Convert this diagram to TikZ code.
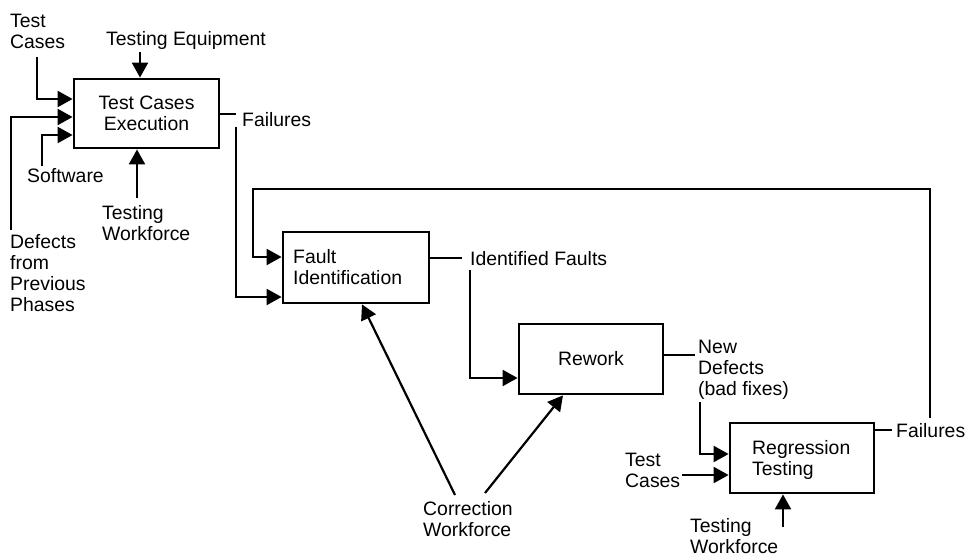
\documentclass[tikz,border=0pt]{standalone}
\usepackage{fontspec}
\setmainfont{Liberation Sans}
\usetikzlibrary{arrows.meta}
\tikzset{
  box/.style={draw, line width=2.8pt, rectangle, inner sep=0pt, align=center},
  lbl/.style={inner sep=0pt, align=left},
  conn/.style={line width=2.2pt},
  arr/.style={conn, -{Triangle[length=15pt,width=16pt]}},
}
\begin{document}
\begin{tikzpicture}[x=1pt,y=-1pt,font=\fontsize{19.4}{21}\selectfont]
\useasboundingbox (0,0) rectangle (965,556);

% process boxes
\node[box, minimum width=145pt, minimum height=69pt] (tce) at (146.5,113.5) {Test Cases\\Execution};
\node[box, minimum width=146pt, minimum height=71pt] (fi) at (356,267.5) {};
\node[lbl, anchor=west] (fitext) at (293,267) {Fault\\Identification};
\node[box, minimum width=144pt, minimum height=70pt] (rw) at (591,359) {Rework};
\node[box, minimum width=144pt, minimum height=70pt] (rt) at (802,458) {};
\node[lbl, anchor=west] (rttext) at (752,460) {Regression\\Testing};

% labels
\node[lbl, anchor=west] (ltc) at (10,31) {Test\\Cases};
\node[lbl] (lte) at (186,40) {Testing Equipment};
\node[lbl, anchor=west] (lf1) at (242,120) {Failures};
\node[lbl, anchor=west] (lsw) at (27,176) {Software};
\node[lbl, anchor=west] (ltw1) at (102,223) {Testing\\Workforce};
\node[lbl, anchor=west] (ldef) at (10,273) {Defects\\from\\Previous\\Phases};
\node[lbl, anchor=west] (lif) at (470,259) {Identified Faults};
\node[lbl, anchor=west] (lnd) at (698,370) {New\\Defects\\(bad fixes)};
\node[lbl, anchor=west] (lf2) at (896,431) {Failures};
\node[lbl, anchor=west] (ltc2) at (625,470) {Test\\Cases};
\node[lbl, anchor=west] (ltw2) at (690,536) {Testing\\Workforce};
\node[lbl, anchor=west] (lcw) at (423,519) {Correction\\Workforce};

% free ends
\coordinate (sTC) at (37,57);
\coordinate (sDef) at (11,230);
\coordinate (sSW) at (42,166);
\coordinate (sTE) at (140,52);
\coordinate (sTW1) at (137,198);
\coordinate (eF1) at (236,114);
\coordinate (sF1) at (236,127);
\coordinate (eF2) at (892,430);
\coordinate (sF2) at (930,418);
\coordinate (loopL) at (253,189);
\coordinate (eIF) at (462,258);
\coordinate (sIF) at (470,270);
\coordinate (eND) at (695,355);
\coordinate (sND) at (700,402);
\coordinate (sTC2) at (682,475);
\coordinate (sTW2) at (783,527);
\coordinate (sCW1) at (455,495);
\coordinate (sCW2) at (485,493);

% inputs to Test Cases Execution
\draw[arr] (sTC) |- ([yshift=14.5pt]tce.west);
\draw[arr] (sDef) |- ([yshift=-3.5pt]tce.west);
\draw[arr] (sSW) |- ([yshift=-21.5pt]tce.west);
\draw[arr] (sTE) -- ([xshift=-6.5pt]tce.north);
\draw[arr] (sTW1) -- ([xshift=-9.5pt]tce.south);

% failures to fault identification
\draw[conn] ([yshift=-0.5pt]tce.east) -- (eF1);
\draw[arr] (sF1) |- ([yshift=-29.5pt]fi.west);

% feedback loop
\draw[conn] ([yshift=28pt]rt.east) -- (eF2);
\draw[arr] (sF2) |- (loopL) |- ([yshift=10.5pt]fi.west);

% identified faults to rework
\draw[conn] ([yshift=9.5pt]fi.east) -- (eIF);
\draw[arr] (sIF) |- ([yshift=-19pt]rw.west);

% new defects to regression testing
\draw[conn] ([yshift=4pt]rw.east) -- (eND);
\draw[arr] (sND) |- ([yshift=4pt]rt.west);
\draw[arr] (sTC2) -- ([yshift=-17pt]rt.west);
\draw[arr] (sTW2) -- ([xshift=-19pt]rt.south);

% correction workforce
\draw[arr] (sCW1) -- ([xshift=6pt]fi.south);
\draw[arr] (sCW2) -- ([xshift=-28pt]rw.south);
\end{tikzpicture}
\end{document}
